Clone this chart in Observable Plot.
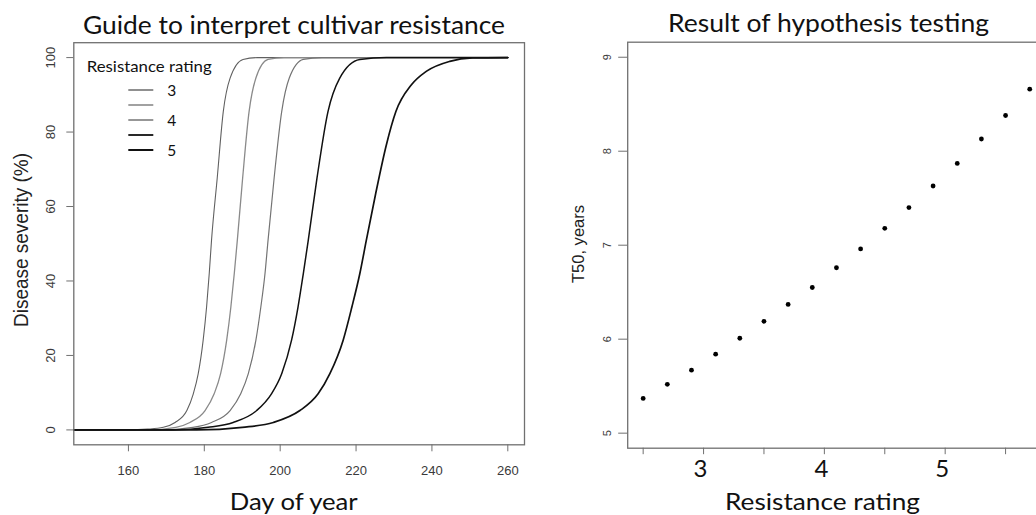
<!DOCTYPE html>
<html>
<head>
<meta charset="utf-8">
<script src="https://cdn.jsdelivr.net/npm/d3@7"></script>
<script src="https://cdn.jsdelivr.net/npm/@observablehq/plot@0.6"></script>
<style>
  html, body { margin: 0; padding: 0; background: #fff; width: 1036px; height: 515px; overflow: hidden; position: relative; }
  #left { position: absolute; left: 0; top: 0; width: 530px; height: 515px; }
  #right { position: absolute; left: 540px; top: 0; width: 520px; height: 515px; }
  #left svg, #right svg { max-width: none !important; display: block; }
</style>
</head>
<body>
<div id="left"></div>
<div id="right"></div>
<script>
// ---- Disease progress curves: [day of year, severity %] per resistance rating ----
const ratings = ["3", "3.5", "4", "4.5", "5"];
const curveR30 = [[140, 0], [160, 0], [165, 0.2], [169.2, 0.7], [172.3, 2.0], [175.4, 5.2], [177.1, 9.7], [178.4, 15.1], [179.7, 24.1], [180.6, 33.0], [181.3, 42.0], [181.9, 50.9], [183.4, 67.6], [185.0, 85.5], [186.8, 94.5], [190.2, 99.5], [194, 100], [260, 100]];
const curveR35 = [[140, 0], [165, 0], [172.5, 0.7], [176.2, 2.0], [180.2, 5.2], [182.6, 9.7], [184.3, 15.1], [185.9, 24.1], [187.0, 33.0], [187.9, 42.0], [188.7, 50.9], [190.1, 67.6], [191.8, 85.5], [193.6, 94.5], [196.8, 99.5], [201, 100], [260, 100]];
const curveR40 = [[140, 0], [168, 0], [177, 0.7], [181.9, 2.0], [186.8, 5.2], [189.6, 9.7], [191.6, 15.1], [193.6, 24.1], [194.9, 33.0], [196.0, 42.0], [196.8, 50.9], [198.4, 67.6], [200.4, 85.5], [202.4, 94.5], [206.1, 99.5], [211, 100], [260, 100]];
const curveR45 = [[140, 0], [172, 0], [181, 0.7], [187.6, 2.0], [193.8, 5.2], [197.7, 9.7], [200.4, 15.1], [203.0, 24.1], [204.7, 33.0], [206.1, 42.0], [207.4, 50.9], [209.7, 67.6], [212.6, 85.5], [215.7, 94.5], [221.0, 99.5], [228, 100], [260, 100]];
const curveR50 = [[140, 0], [178, 0], [190, 0.7], [198.2, 2.0], [205.2, 5.2], [210.0, 9.7], [213.1, 15.1], [216.6, 24.1], [218.9, 33.0], [221.0, 42.0], [222.7, 50.9], [225.1, 63.1], [228.0, 76.6], [230.5, 85.5], [234.6, 92.7], [238.5, 96.3], [244.7, 99.0], [250.7, 99.9], [260, 100]];
const dayTicks = [160, 180, 200, 220, 240, 260];
const severityTicks = [0, 20, 40, 60, 80, 100];
const legendLabels = ["3", "", "4", "", "5"];

// ---- T50 against resistance rating ----
const ratingSteps = [2.5, 2.7, 2.9, 3.1, 3.3, 3.5, 3.7, 3.9, 4.1, 4.3, 4.5, 4.7, 4.9, 5.1, 5.3, 5.5, 5.7];
const t50Years = [5.37, 5.52, 5.67, 5.84, 6.01, 6.19, 6.37, 6.55, 6.76, 6.96, 7.18, 7.40, 7.63, 7.87, 8.13, 8.38, 8.66];
const ratingTicks = [2.5, 3, 3.5, 4, 4.5, 5, 5.5];
const ratingLabels = [3, 4, 5];
const t50Ticks = [5, 6, 7, 8, 9];

// ---- styling ----
const curveColors = ["#606060", "#8a8a8a", "#747474", "#111111", "#111111"];
const curveWidths = [1.1, 1.3, 1.2, 1.5, 1.7];
const boxColor = "#707070";
const tickText = "#3a3a3a";
const arial = "'Liberation Sans', Arial, sans-serif";
const calibriLike = "Lato, 'Open Sans', sans-serif";

const curves = [curveR30, curveR35, curveR40, curveR45, curveR50];
const progress = curves.flatMap((c, i) => c.map(([day, severity]) => ({rating: ratings[i], day, severity})));

const left = Plot.plot({
  width: 530,
  height: 515,
  marginLeft: 73.3,
  marginRight: 6,
  marginTop: 42.2,
  marginBottom: 70.7,
  style: {background: "#fff", fontFamily: arial, overflow: "visible"},
  x: {domain: [145.6, 264.4]},
  y: {domain: [-4, 104]},
  marks: [
    ...ratings.map((r, i) => Plot.line(progress.filter(d => d.rating === r), {
      x: "day", y: "severity", curve: "monotone-x", clip: true,
      stroke: curveColors[i], strokeWidth: curveWidths[i]
    })),
    Plot.frame({stroke: boxColor, strokeWidth: 1.3}),
    Plot.axisX(dayTicks, {tickSize: 7, tickPadding: 14, fontSize: 13, stroke: boxColor, fill: tickText, label: null, tickFormat: d => String(d)}),
    Plot.axisY(severityTicks, {tickSize: 7, tickPadding: 12, tickRotate: -90, fontSize: 13, stroke: boxColor, fill: tickText, label: null, tickFormat: d => String(d)})
  ]
});

const right = Plot.plot({
  width: 520,
  height: 515,
  marginLeft: 87.2,
  marginRight: 15.3,
  marginTop: 41.7,
  marginBottom: 67.3,
  style: {background: "#fff", fontFamily: arial, overflow: "visible"},
  x: {domain: [2.372, 5.828]},
  y: {domain: [4.84, 9.16]},
  marks: [
    Plot.frame({stroke: boxColor, strokeWidth: 1.3}),
    Plot.axisX(ratingTicks, {tickSize: 6.5, stroke: boxColor, fill: "none", label: null}),
    Plot.axisY(t50Ticks, {tickSize: 9, tickPadding: 8, tickRotate: -90, fontSize: 11, stroke: boxColor, fill: tickText, label: null, tickFormat: d => String(d)}),
    Plot.text(ratingLabels, {x: d => d, text: d => String(d), frameAnchor: "bottom", dx: -3, dy: 29,
      fontSize: 24, fontFamily: calibriLike, fill: "#111"}),
    Plot.dot(ratingSteps.map((r, i) => ({rating: r, t50: t50Years[i]})), {x: "rating", y: "t50", r: 2.4, fill: "#000", stroke: "none"})
  ]
});

document.getElementById("left").append(left);
document.getElementById("right").append(right);

// titles, axis titles and the legend, written into each SVG
function addText(svg, str, {x, y, size, family, anchor = "start", rotate = 0, length, fill = "#111"}) {
  const t = d3.select(svg).append("text")
    .attr("transform", `translate(${x},${y}) rotate(${rotate})`)
    .attr("text-anchor", anchor)
    .attr("font-family", family)
    .attr("font-size", size)
    .attr("fill", fill)
    .text(str);
  if (length) t.attr("textLength", length).attr("lengthAdjust", "spacingAndGlyphs");
  return t;
}

addText(left, "Guide to interpret cultivar resistance", {x: 83, y: 34, size: 25, family: calibriLike, length: 422});
addText(left, "Day of year", {x: 229.7, y: 509.5, size: 24, family: calibriLike, length: 128});
addText(left, "Disease severity (%)", {x: 28, y: 240, size: 19.5, family: arial, anchor: "middle", rotate: -90, length: 174, fill: "#222"});

// legend
addText(left, "Resistance rating", {x: 86.7, y: 71.7, size: 16, family: calibriLike, length: 125});
const lg = d3.select(left).append("g");
ratings.forEach((r, i) => {
  const y = 90 + 15 * i;
  lg.append("line").attr("x1", 128.3).attr("x2", 153.3).attr("y1", y).attr("y2", y)
    .attr("stroke", curveColors[i]).attr("stroke-width", curveWidths[i] + 0.3);
  if (legendLabels[i]) addText(left, legendLabels[i], {x: 171.7, y: y + 5.6, size: 15.5, family: calibriLike, anchor: "middle"});
});

addText(right, "Result of hypothesis testing", {x: 128, y: 31.7, size: 25, family: calibriLike, length: 321});
addText(right, "Resistance rating", {x: 185, y: 509.5, size: 24, family: calibriLike, length: 195});
addText(right, "T50, years", {x: 44, y: 244, size: 16, family: arial, anchor: "middle", rotate: -90, length: 78, fill: "#222"});
</script>
</body>
</html>
